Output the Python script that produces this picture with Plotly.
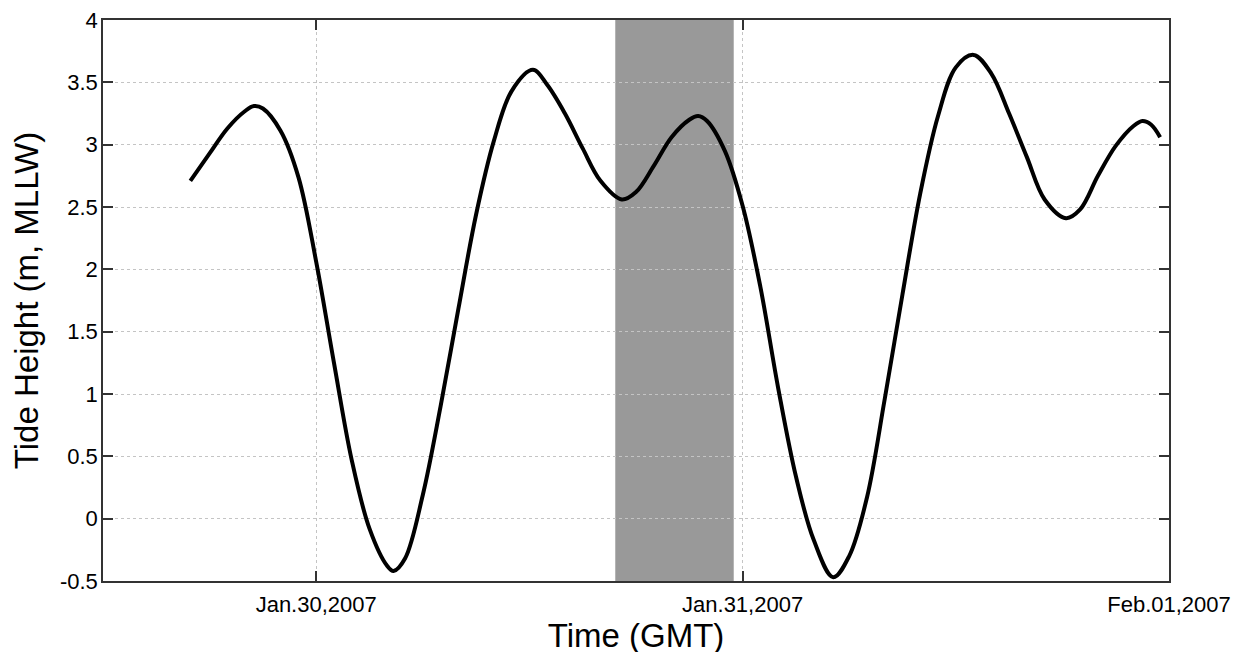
import plotly.graph_objects as go

# ---- data (GMT times, tide height in m MLLW) ----
times = [
    "2007-01-29 16:55", "2007-01-29 18:00", "2007-01-29 19:00", "2007-01-29 20:00",
    "2007-01-29 20:30", "2007-01-29 21:00", "2007-01-29 22:00", "2007-01-29 23:00",
    "2007-01-30 00:00", "2007-01-30 01:00", "2007-01-30 02:00", "2007-01-30 03:00",
    "2007-01-30 04:00", "2007-01-30 04:21", "2007-01-30 05:00", "2007-01-30 06:00",
    "2007-01-30 07:00", "2007-01-30 08:00", "2007-01-30 09:00", "2007-01-30 10:00",
    "2007-01-30 11:00", "2007-01-30 12:12", "2007-01-30 13:00", "2007-01-30 14:00",
    "2007-01-30 15:00", "2007-01-30 16:00", "2007-01-30 17:12", "2007-01-30 18:00",
    "2007-01-30 19:00", "2007-01-30 20:00", "2007-01-30 21:00", "2007-01-30 21:30",
    "2007-01-30 22:00", "2007-01-30 23:00", "2007-01-31 00:00", "2007-01-31 01:00",
    "2007-01-31 02:00", "2007-01-31 03:00", "2007-01-31 04:00", "2007-01-31 05:06",
    "2007-01-31 06:00", "2007-01-31 07:00", "2007-01-31 08:00", "2007-01-31 09:00",
    "2007-01-31 10:00", "2007-01-31 11:00", "2007-01-31 12:00", "2007-01-31 13:00",
    "2007-01-31 14:00", "2007-01-31 15:00", "2007-01-31 16:00", "2007-01-31 17:00",
    "2007-01-31 18:12", "2007-01-31 19:00", "2007-01-31 20:00", "2007-01-31 21:00",
    "2007-01-31 22:00", "2007-01-31 22:30", "2007-01-31 23:00", "2007-01-31 23:30",
]
tide_height = [
    2.71, 2.93, 3.13, 3.27,
    3.31, 3.29, 3.11, 2.74,
    2.06, 1.25, 0.47, -0.08,
    -0.38, -0.42, -0.32, 0.19,
    0.90, 1.68, 2.44, 3.03,
    3.43, 3.60, 3.48, 3.25,
    2.97, 2.71, 2.56, 2.62,
    2.83, 3.06, 3.20, 3.23,
    3.19, 2.95, 2.51, 1.86,
    1.05, 0.34, -0.17, -0.47,
    -0.30, 0.17, 0.96, 1.80,
    2.61, 3.23, 3.62, 3.72,
    3.57, 3.25, 2.90, 2.56,
    2.41, 2.48, 2.75, 2.99,
    3.15, 3.19, 3.16, 3.06,
]
shade_start = "2007-01-30 16:50"
shade_end = "2007-01-30 23:30"

x_tick_vals = ["2007-01-30 00:00", "2007-01-31 00:00", "2007-02-01 00:00"]
x_tick_text = ["Jan.30,2007", "Jan.31,2007", "Feb.01,2007"]
x_range = ["2007-01-29 12:00", "2007-02-01 00:00"]

y_tick_vals = [-0.5, 0, 0.5, 1, 1.5, 2, 2.5, 3, 3.5, 4]
y_tick_text = ["-0.5", "0", "0.5", "1", "1.5", "2", "2.5", "3", "3.5", "4"]
y_range = [-0.5, 4]

FONT = "Liberation Sans, Arial, sans-serif"

fig = go.Figure()
fig.add_trace(go.Scatter(
    x=times, y=tide_height, mode="lines",
    line=dict(color="black", width=4, shape="spline", smoothing=1.0),
    showlegend=False, hoverinfo="x+y",
))

fig.add_shape(type="rect", xref="x", yref="paper",
              x0=shade_start, x1=shade_end, y0=0, y1=1,
              fillcolor="#999999", line=dict(width=0), layer="between")

axis_common = dict(
    showline=True, linecolor="#333333", linewidth=1.5, mirror="ticks",
    ticks="inside", ticklen=10, tickwidth=1.5, tickcolor="#333333",
    showgrid=True, gridcolor="#c4c4c4", griddash="dot", gridwidth=1,
    zeroline=False, automargin=False, ticklabeloverflow="allow",
    tickfont=dict(family=FONT, size=22, color="black"),
    title_font=dict(family=FONT, size=33, color="black"),
)

fig.update_xaxes(
    type="date", range=x_range,
    tickmode="array", tickvals=x_tick_vals, ticktext=x_tick_text,
    title_text="Time (GMT)", title_standoff=0, ticklabelstandoff=3,
    **axis_common,
)
fig.update_yaxes(
    range=y_range,
    tickmode="array", tickvals=y_tick_vals, ticktext=y_tick_text,
    title_text="Tide Height (m, MLLW)", title_standoff=16, ticklabelstandoff=-1,
    **axis_common,
)

fig.update_layout(
    width=1243, height=652,
    margin=dict(l=95, r=82, t=12, b=79),
    paper_bgcolor="white", plot_bgcolor="white",
    font=dict(family=FONT),
)

fig.write_html("out.html")
